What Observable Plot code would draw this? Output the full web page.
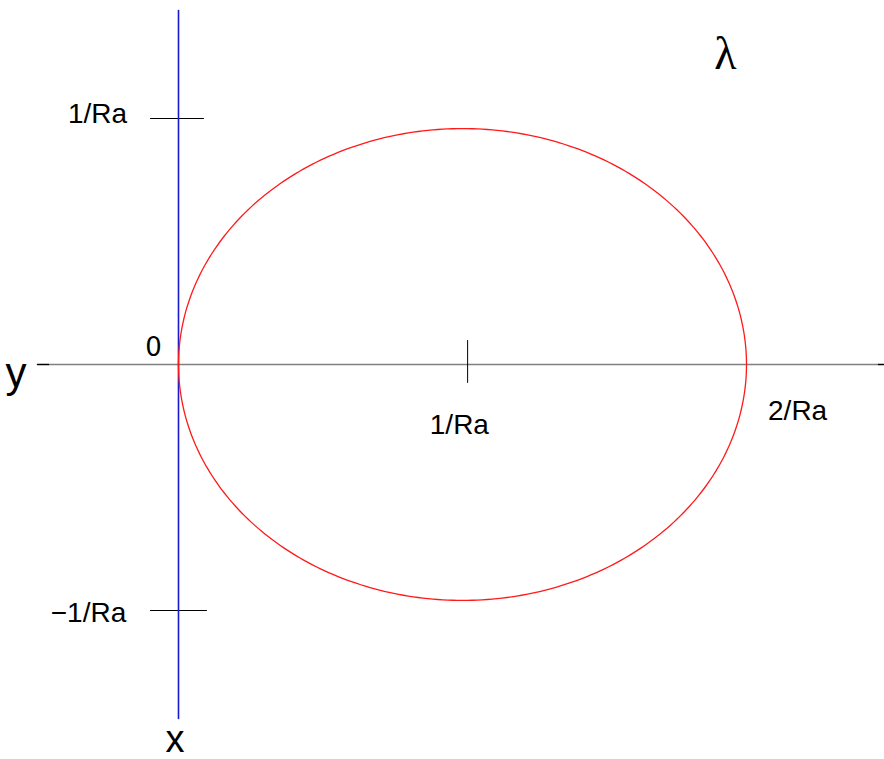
<!DOCTYPE html>
<html>
<head>
<meta charset="utf-8">
<script src="https://cdn.jsdelivr.net/npm/d3@7"></script>
<script src="https://cdn.jsdelivr.net/npm/@observablehq/plot@0.6"></script>
<style>
  html, body { margin: 0; padding: 0; background: #fff; }
</style>
</head>
<body>
<div id="chart"></div>
<script>
// Units: multiples of 1/Ra
const ellipseCenter = [1, 0];
const ellipseRadii = [1, 0.959];
const xAxisSpan = [-0.458, 2.465];     // gray horizontal line
const xAxisEnds = [[-0.4965, -0.458], [2.465, 2.486]];
const vAxisSpan = [-1.439, 1.439];     // blue vertical line
const yTicks = [
  {v: 1, u0: -0.0986, u1: 0.088, label: "1/Ra", lu: -0.285, lv: 1.02},
  {v: -1, u0: -0.0986, u1: 0.0986, label: "\u22121/Ra", lu: -0.317, lv: -1.01}
];
const xTicks = [
  {u: 1.018, v0: -0.073, v1: 0.0976, label: "1/Ra", lu: 0.989, lv: -0.245},
  {u: 2, label: "2/Ra", lu: 2.18, lv: -0.19}
];
const axisLabels = [
  {text: "y", u: -0.572, v: -0.035, font: "Liberation Sans", size: 42},
  {text: "x", u: -0.012, v: -1.525, font: "Liberation Sans", size: 38},
  {text: "\u03bb", u: 1.926, v: 1.26, font: "Liberation Serif", size: 46},
  {text: "0", u: -0.088, v: 0.068, font: "DejaVu Sans", size: 26}
];

const ellipse = d3.range(0, 361, 1).map(a => ({
  u: ellipseCenter[0] + ellipseRadii[0] * Math.cos(a * Math.PI / 180),
  v: ellipseCenter[1] + ellipseRadii[1] * Math.sin(a * Math.PI / 180)
}));

const W = 884, H = 759;
const pxX0 = 178, pxPerUx = 284, pxY0 = 364, pxPerUy = 246;
const xDomain = [(0 - pxX0) / pxPerUx, (W - pxX0) / pxPerUx];
const yDomain = [(pxY0 - H) / pxPerUy, pxY0 / pxPerUy];

const chart = Plot.plot({
  width: W, height: H,
  margin: 0,
  x: {domain: xDomain, axis: null},
  y: {domain: yDomain, axis: null},
  marks: [
    Plot.line([{u: xAxisSpan[0], v: 0}, {u: xAxisSpan[1], v: 0}], {x: "u", y: "v", stroke: "#808080", strokeWidth: 1.3}),
    ...xAxisEnds.map(e => Plot.line([{u: e[0], v: 0}, {u: e[1], v: 0}], {x: "u", y: "v", stroke: "#000", strokeWidth: 1.5})),
    Plot.line(yTicks.flatMap(t => [{u: t.u0, v: t.v, g: t.label}, {u: t.u1, v: t.v, g: t.label}]), {x: "u", y: "v", z: "g", stroke: "#000", strokeWidth: 1}),
    Plot.line([{u: xTicks[0].u, v: xTicks[0].v0}, {u: xTicks[0].u, v: xTicks[0].v1}], {x: "u", y: "v", stroke: "#000", strokeWidth: 1}),
    Plot.line([{u: 0, v: vAxisSpan[0]}, {u: 0, v: vAxisSpan[1]}], {x: "u", y: "v", stroke: "#1a1acc", strokeWidth: 1.6}),
    Plot.line(ellipse, {x: "u", y: "v", stroke: "#ff1a1a", strokeWidth: 1.3, curve: "linear"}),
    Plot.text(yTicks, {x: "lu", y: "lv", text: "label", fontSize: 28, fontFamily: "Liberation Sans", fill: "#000", textAnchor: "middle"}),
    Plot.text(xTicks, {x: "lu", y: "lv", text: "label", fontSize: 28, fontFamily: "Liberation Sans", fill: "#000", textAnchor: "middle"}),
    ...axisLabels.map(l => Plot.text([l], {x: "u", y: "v", text: "text", fontSize: l.size, fontFamily: l.font, fill: "#000", textAnchor: "middle"}))
  ]
});
document.getElementById("chart").appendChild(chart);
</script>
</body>
</html>
